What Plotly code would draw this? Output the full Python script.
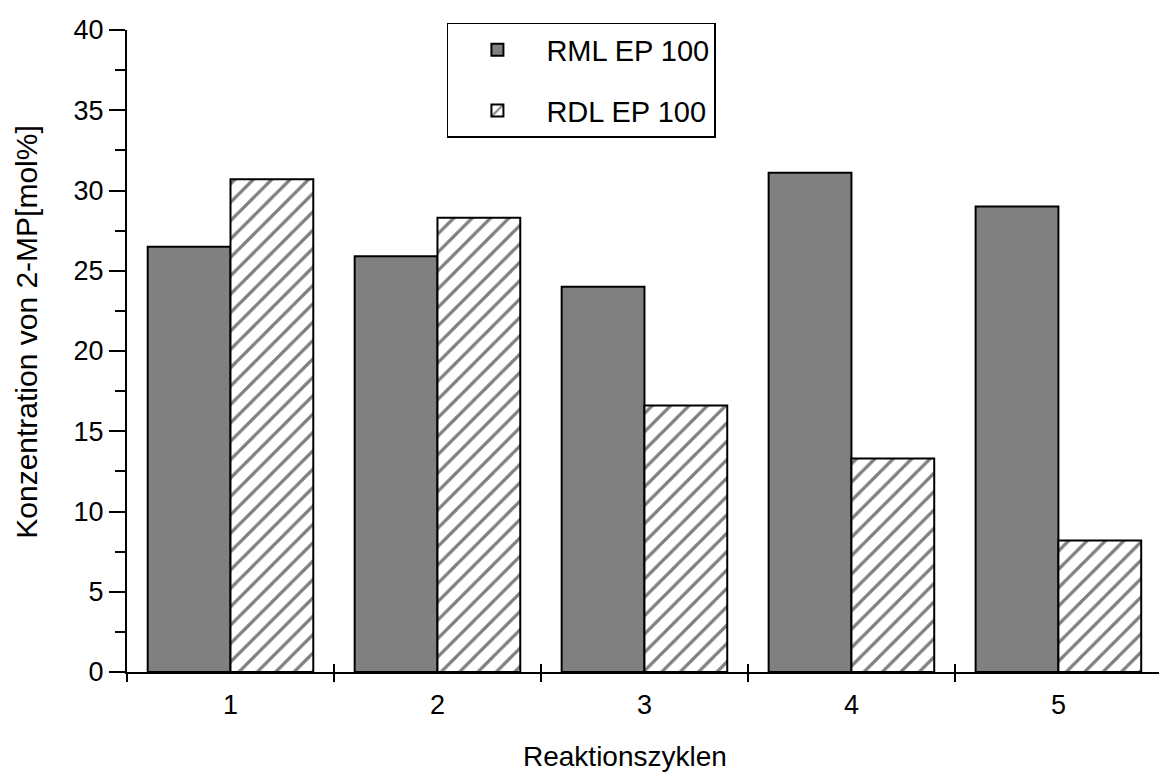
import plotly.graph_objects as go

cycles = [1, 2, 3, 4, 5]
cycle_labels = ["1", "2", "3", "4", "5"]
rml_ep100 = [26.5, 25.9, 24.0, 31.1, 29.0]
rdl_ep100 = [30.7, 28.3, 16.6, 13.3, 8.2]
boundaries = [0.5, 1.5, 2.5, 3.5, 4.5]
y_ticks = [0, 5, 10, 15, 20, 25, 30, 35, 40]

FONT = "Liberation Sans, Arial, sans-serif"

fig = go.Figure()
fig.add_trace(go.Bar(
    x=cycles, y=rml_ep100, name="RML EP 100", legendgroup="a",
    marker=dict(color="#808080", line=dict(color="black", width=2)),
))
fig.add_trace(go.Bar(
    x=cycles, y=rdl_ep100, name="RDL EP 100", legendgroup="b",
    marker=dict(color="white", line=dict(color="black", width=2),
                pattern=dict(shape="/", fgcolor="black", bgcolor="white",
                             size=13, solidity=0.25)),
))
# helper invisible trace for the inner half of the x boundary ticks
fig.add_trace(go.Scatter(x=[None], y=[None], xaxis="x2", showlegend=False,
                         hoverinfo="skip"))

fig.update_layout(
    width=1159, height=776,
    margin=dict(l=127, r=0, t=30, b=104),
    paper_bgcolor="white", plot_bgcolor="white",
    barmode="group", bargap=0.2, bargroupgap=0,
    font=dict(family=FONT, color="black", size=26),
    showlegend=True,
    legend=dict(
        x=0.31, y=1.011, xanchor="left", yanchor="top",
        bordercolor="black", borderwidth=1.5, bgcolor="white",
        font=dict(size=29, family=FONT), tracegroupgap=20,
        itemwidth=88,
    ),
    xaxis=dict(
        range=[0.5, 5.486], tickvals=cycles, ticktext=cycle_labels,
        ticks="outside", ticklen=8, tickcolor="rgba(0,0,0,0)",
        minor=dict(tickvals=boundaries, ticks="outside", ticklen=8,
                   tickwidth=2, tickcolor="black"),
        showline=True, linecolor="black", linewidth=2,
        showgrid=False, zeroline=False,
        tickfont=dict(size=27, family=FONT),
    ),
    xaxis2=dict(
        overlaying="x", matches="x", anchor="y", side="bottom",
        tickvals=boundaries, ticks="inside", ticklen=8, tickwidth=2,
        tickcolor="black", showticklabels=False, showline=False,
        showgrid=False, zeroline=False,
    ),
    yaxis=dict(
        range=[0, 40], tickvals=y_ticks, ticks="outside", ticklen=16,
        tickwidth=2, tickcolor="black",
        minor=dict(dtick=2.5, tick0=0, ticks="outside", ticklen=10,
                   tickwidth=2, tickcolor="black"),
        showline=True, linecolor="black", linewidth=2,
        showgrid=False, zeroline=False,
        tickfont=dict(size=27, family=FONT),
    ),
    annotations=[
        dict(text="Reaktionszyklen", xref="paper", yref="paper",
             x=0.4826, y=-0.132, xanchor="center", yanchor="middle",
             showarrow=False, font=dict(size=28, family=FONT)),
        dict(text="Konzentration von 2-MP[mol%]", xref="paper", yref="paper",
             x=-0.0969, y=0.53, xanchor="center", yanchor="middle",
             textangle=-90, showarrow=False, font=dict(size=30, family=FONT)),
    ],
)

fig.write_html("out.html")
